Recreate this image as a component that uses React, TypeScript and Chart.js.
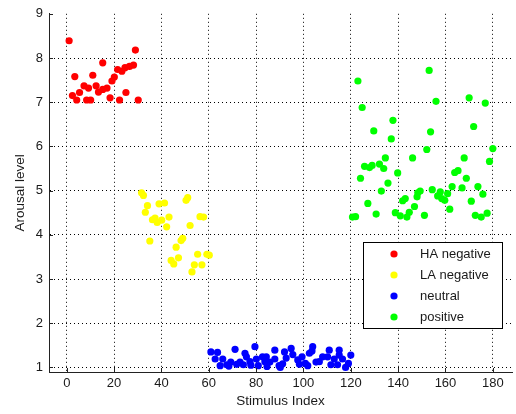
import { useEffect, useRef } from "react";
import { Chart, registerables } from "chart.js";

Chart.register(...registerables);

// ---- data ----
const X_TICKS = [0, 20, 40, 60, 80, 100, 120, 140, 160, 180];
const Y_TICKS = [1, 2, 3, 4, 5, 6, 7, 8, 9];
const X_MIN = -7.5;
const X_MAX = 188.1;
const Y_MIN = 0.896;
const Y_MAX = 9;

const SERIES_LABELS = ["HA negative", "LA negative", "neutral", "positive"];
const SERIES_COLORS = ["#ff0000", "#ffff00", "#0000ff", "#00ff00"];

const HA_NEG_X = [1.0, 2.4, 3.4, 4.2, 5.4, 7.3, 8.4, 9.2, 10.1, 11.0, 12.4, 13.4, 15.2, 15.2, 17.0, 18.3, 19.1, 20.1, 21.5, 22.3, 23.3, 24.6, 25.0, 26.5, 28.2, 29.0, 30.2];
const HA_NEG_Y = [8.39, 7.15, 7.58, 7.05, 7.22, 7.37, 7.05, 7.32, 7.05, 7.61, 7.37, 7.23, 7.89, 7.29, 7.32, 7.10, 7.48, 7.57, 7.74, 7.05, 7.70, 7.78, 7.22, 7.81, 7.84, 8.18, 7.05];

const LA_NEG_X = [31.6, 32.4, 33.2, 34.1, 35.1, 36.2, 37.3, 38.2, 39.0, 40.1, 41.3, 42.2, 43.2, 44.1, 45.2, 46.2, 47.2, 48.3, 49.0, 50.4, 51.1, 52.1, 52.9, 53.9, 55.3, 56.3, 57.1, 57.8, 59.2, 60.2];
const LA_NEG_Y = [4.95, 4.89, 4.51, 4.66, 3.86, 4.34, 4.38, 4.28, 4.70, 4.33, 4.72, 4.18, 4.40, 3.42, 3.34, 3.72, 3.48, 3.87, 3.92, 4.78, 4.84, 4.21, 3.16, 3.32, 3.56, 4.41, 3.32, 4.40, 3.56, 3.54];

const NEUTRAL_X = [60.9, 62.7, 63.7, 64.8, 65.9, 67.6, 68.5, 69.3, 71.1, 71.8, 73.2, 74.6, 75.3, 75.9, 77.4, 77.8, 79.5, 80.1, 80.9, 82.7, 83.7, 84.3, 84.6, 85.8, 87.9, 87.9, 89.7, 90.2, 91.2, 92.0, 92.7, 94.8, 95.5, 97.6, 98.3, 99.4, 100.8, 101.8, 102.5, 103.6, 103.9, 105.3, 106.7, 108.1, 110.2, 110.9, 111.6, 113.0, 114.4, 115.1, 115.1, 116.5, 117.8, 119.0, 120.0];
const NEUTRAL_Y = [1.35, 1.19, 1.34, 1.04, 1.19, 1.06, 1.03, 1.12, 1.41, 1.07, 1.12, 1.06, 1.32, 1.24, 1.13, 1.05, 1.47, 1.19, 1.04, 1.24, 1.13, 1.24, 1.02, 1.12, 1.39, 1.19, 1.04, 1.00, 1.08, 1.35, 1.21, 1.43, 1.29, 1.17, 1.07, 1.24, 1.09, 1.04, 1.32, 1.37, 1.47, 1.12, 1.13, 1.24, 1.24, 1.39, 1.06, 1.19, 1.06, 1.39, 1.28, 1.19, 1.00, 1.09, 1.28];

const POSITIVE_X = [120.7, 122.0, 123.0, 124.1, 124.8, 125.8, 127.2, 127.9, 129.0, 129.7, 130.7, 132.1, 132.9, 133.9, 134.6, 135.7, 137.1, 137.8, 138.8, 139.8, 140.9, 141.9, 143.0, 143.7, 144.7, 146.1, 146.9, 148.0, 148.3, 149.3, 151.1, 152.1, 153.1, 153.7, 154.4, 156.0, 156.7, 157.8, 158.4, 159.7, 160.9, 161.8, 162.8, 163.9, 165.3, 167.0, 167.9, 168.8, 170.0, 170.9, 171.9, 172.6, 173.7, 175.1, 175.8, 176.8, 177.6, 178.6, 180.0];
const POSITIVE_Y = [4.40, 4.41, 7.48, 5.28, 6.88, 5.55, 4.71, 5.52, 5.57, 6.35, 4.47, 5.60, 4.99, 5.50, 5.74, 5.17, 6.17, 6.59, 4.50, 5.40, 4.43, 4.77, 4.82, 4.40, 4.51, 5.74, 4.64, 4.86, 4.95, 4.99, 4.44, 5.93, 7.72, 6.33, 5.02, 7.02, 4.88, 4.97, 4.82, 4.78, 4.93, 4.58, 5.09, 5.41, 5.45, 5.06, 5.74, 5.28, 7.10, 4.76, 6.45, 4.44, 5.09, 4.40, 4.92, 6.98, 4.49, 5.66, 5.95];

const SERIES_X = [HA_NEG_X, LA_NEG_X, NEUTRAL_X, POSITIVE_X];
const SERIES_Y = [HA_NEG_Y, LA_NEG_Y, NEUTRAL_Y, POSITIVE_Y];

const FONT = '"Liberation Sans", Arial, Helvetica, sans-serif';
const TEXT = "#1a1a1a";

const boxLegend = {
  id: "boxLegend",
  afterDraw(chart: any) {
    const ctx = chart.ctx;
    ctx.save();
    const left = 363.5, top = 242.5, w = 139, h = 86;
    ctx.fillStyle = "#ffffff";
    ctx.fillRect(left, top, w, h);
    ctx.strokeStyle = "#000000";
    ctx.lineWidth = 1;
    ctx.strokeRect(left, top, w, h);
    ctx.font = `13px ${FONT}`;
    ctx.textBaseline = "middle";
    ctx.textAlign = "left";
    chart.data.datasets.forEach((ds: any, i: number) => {
      const y = 254 + i * 21;
      ctx.fillStyle = ds.backgroundColor;
      ctx.beginPath();
      ctx.arc(394, y, 3.6, 0, Math.PI * 2);
      ctx.fill();
      ctx.fillStyle = TEXT;
      ctx.fillText(ds.label, 420, y + 0.5);
    });
    ctx.restore();
  },
};

const innerTicks = {
  id: "innerTicks",
  afterDatasetsDraw(chart: any) {
    const { ctx, chartArea, scales } = chart;
    ctx.save();
    ctx.strokeStyle = "#222";
    ctx.lineWidth = 1;
    ctx.beginPath();
    for (const t of scales.x.ticks) {
      const px = Math.round(scales.x.getPixelForValue(t.value)) + 0.5;
      ctx.moveTo(px, chartArea.bottom);
      ctx.lineTo(px, chartArea.bottom - 4);
    }
    for (const t of scales.y.ticks) {
      const py = Math.round(scales.y.getPixelForValue(t.value)) + 0.5;
      ctx.moveTo(chartArea.left, py);
      ctx.lineTo(chartArea.left + 4, py);
    }
    ctx.stroke();
    ctx.restore();
  },
};

export default function App() {
  const ref = useRef<HTMLCanvasElement>(null);
  useEffect(() => {
    document.body.style.margin = "0";
    const datasets = SERIES_LABELS.map((label, i) => ({
      label,
      data: SERIES_X[i].map((x, j) => ({ x, y: SERIES_Y[i][j] })),
      backgroundColor: SERIES_COLORS[i],
      borderColor: SERIES_COLORS[i],
      borderWidth: 0,
      pointRadius: 3.6,
      pointStyle: "circle",
    }));
    const chart = new Chart(ref.current as HTMLCanvasElement, {
      type: "scatter",
      data: { datasets },
      options: {
        responsive: false,
        animation: false,
        devicePixelRatio: 1,
        layout: { padding: { top: 6, left: 0, right: 0, bottom: 0 } },
        plugins: { legend: { display: false }, tooltip: { enabled: false } },
        scales: {
          x: {
            type: "linear",
            min: X_MIN,
            max: X_MAX,
            afterBuildTicks: (s: any) => {
              s.ticks = X_TICKS.map((v) => ({ value: v }));
            },
            afterFit: (s: any) => {
              s.height = 42;
            },
            ticks: {
              autoSkip: false,
              maxRotation: 0,
              padding: 4,
              color: TEXT,
              font: { family: FONT, size: 13 },
            },
            grid: { color: "#000", lineWidth: 1, drawTicks: false },
            border: { display: true, color: "#222", width: 1, dash: [1, 3] },
            title: {
              display: true,
              text: "Stimulus Index",
              color: TEXT,
              font: { family: FONT, size: 13.5 },
              padding: { top: 0, bottom: 5 },
            },
          },
          y: {
            type: "linear",
            min: Y_MIN,
            max: Y_MAX,
            afterBuildTicks: (s: any) => {
              s.ticks = Y_TICKS.map((v) => ({ value: v }));
            },
            afterFit: (s: any) => {
              s.width = 49;
            },
            ticks: {
              autoSkip: false,
              padding: 6,
              color: TEXT,
              font: { family: FONT, size: 13 },
            },
            grid: {
              color: (c: any) => (c.tick && c.tick.value === 9 ? "rgba(0,0,0,0)" : "#000"),
              lineWidth: 1,
              drawTicks: false,
            },
            border: { display: true, color: "#222", width: 1, dash: [1, 3] },
            title: {
              display: true,
              text: "Arousal level",
              color: TEXT,
              font: { family: FONT, size: 13.5 },
              padding: { top: 12.5, bottom: 0 },
            },
          },
        },
      },
      plugins: [innerTicks, boxLegend],
    } as any);
    return () => chart.destroy();
  }, []);
  return <canvas ref={ref} width={516} height={414} style={{ display: "block" }} />;
}
